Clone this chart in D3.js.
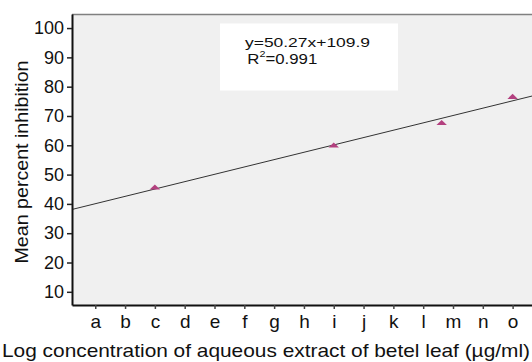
<!DOCTYPE html>
<html><head><meta charset="utf-8">
<script src="https://cdn.jsdelivr.net/npm/d3@7"></script>
<style>body{margin:0;background:#fff}svg{display:block}text{font-family:"Liberation Sans",Arial,sans-serif;fill:#111}</style>
</head><body><svg id="c" width="532" height="362"></svg>
<script>
const categories = ["a","b","c","d","e","f","g","h","i","j","k","l","m","n","o"];
const yTicks = [10,20,30,40,50,60,70,80,90,100];
const pointX = [2, 8, 11.62, 14];
const pointY = [45.5, 59.8, 67.5, 76.4];
const fitX = [-0.78, 14.65];
const fitY = [38.1, 76.8];
const equation = "y=50.27x+109.9";
const rSquared = "0.991";
const xTitle = "Log concentration of aqueous extract of betel leaf (\u00b5g/ml)";
const yTitle = "Mean percent inhibition";

const svg = d3.select("#c");
const L = 72, R = 532, T = 14, B = 305;
const x = d3.scaleLinear().domain([-0.78, 14.65]).range([L, R]);
const y = d3.scaleLinear().domain([5.5, 104.8]).range([B, T]);

svg.append("rect").attr("x", L).attr("y", T).attr("width", R - L).attr("height", B - T).attr("fill", "#f0f0f0");
svg.append("line").attr("x1", L).attr("x2", R).attr("y1", T + 0.5).attr("y2", T + 0.5).attr("stroke", "#808080").attr("stroke-width", 1.5);

// equation box
const box = svg.append("g");
box.append("rect").attr("x", 220).attr("y", 23.5).attr("width", 178).attr("height", 67).attr("fill", "#fff");
box.append("text").attr("x", 245).attr("y", 46.5).attr("font-size", 13.5)
  .attr("textLength", 125).attr("lengthAdjust", "spacingAndGlyphs").text(equation);
const r2 = box.append("text").attr("x", 247.3).attr("y", 64).attr("font-size", 14)
  .attr("textLength", 70).attr("lengthAdjust", "spacingAndGlyphs");
r2.append("tspan").text("R");
r2.append("tspan").attr("font-size", 9).attr("dy", -7).text("2");
r2.append("tspan").attr("dy", 7).text("=" + rSquared);

// fit line
svg.append("path")
  .datum(fitX.map((v, i) => [v, fitY[i]]))
  .attr("d", d3.line().x(d => x(d[0])).y(d => y(d[1])))
  .attr("fill", "none").attr("stroke", "#333").attr("stroke-width", 1);

// points
const tri = d3.symbol().type(d3.symbolTriangle).size(26);
svg.selectAll(".pt").data(pointX.map((v, i) => [v, pointY[i]])).join("path")
  .attr("transform", d => `translate(${x(d[0])},${y(d[1])}) scale(1.35,0.75)`)
  .attr("d", tri).attr("fill", "#b3407f");

// axes
const ya = svg.append("g").attr("transform", `translate(${L},0)`)
  .call(d3.axisLeft(y).tickValues(yTicks).tickSize(5).tickPadding(3).tickSizeOuter(0));
ya.select(".domain").attr("stroke", "#111").attr("stroke-width", 2);
ya.selectAll(".tick line").attr("stroke", "#222").attr("stroke-width", 1.5);
ya.selectAll(".tick text").attr("font-size", 18).attr("fill", "#111").attr("font-family", "Liberation Sans, Arial, sans-serif");

const xa = svg.append("g").attr("transform", `translate(0,${B})`)
  .call(d3.axisBottom(x).tickValues(d3.range(categories.length)).tickFormat(i => categories[i]).tickSize(4).tickPadding(6).tickSizeOuter(0));
xa.select(".domain").attr("stroke", "#111").attr("stroke-width", 2);
xa.selectAll(".tick line").attr("stroke", "#444").attr("stroke-width", 1.5);
xa.selectAll(".tick text").attr("font-size", 19).attr("fill", "#111").attr("font-family", "Liberation Sans, Arial, sans-serif");

// titles
svg.append("text").attr("x", 266).attr("y", 357).attr("text-anchor", "middle").attr("font-size", 18.5)
  .attr("textLength", 528).attr("lengthAdjust", "spacingAndGlyphs").text(xTitle);
svg.append("text").attr("transform", "translate(28,162) rotate(-90)").attr("text-anchor", "middle")
  .attr("font-size", 18.5).attr("textLength", 203).attr("lengthAdjust", "spacingAndGlyphs").text(yTitle);
</script></body></html>
